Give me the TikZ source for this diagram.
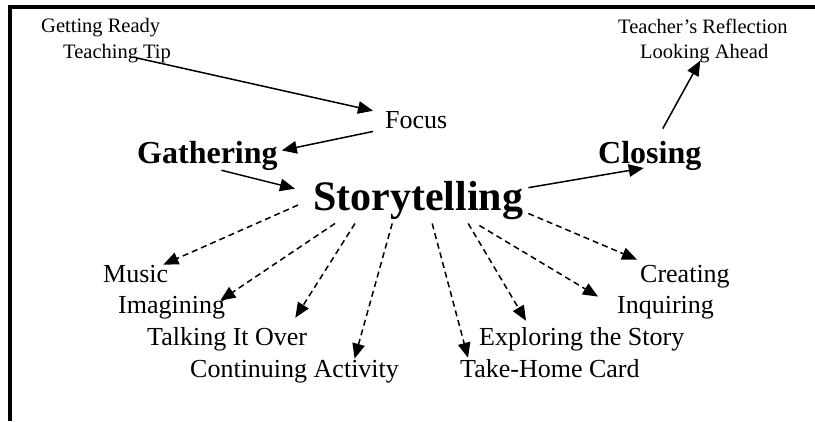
\documentclass[tikz,border=0pt]{standalone}
\usepackage{fontspec}
\setmainfont{Liberation Serif}
\usepackage{tikz}
\usetikzlibrary{arrows.meta}
\usetikzlibrary{calc}

\begin{document}
\begin{tikzpicture}[x=1pt, y=-1pt]
      \tikzset{
         snode/.style = {
            anchor=base west, inner sep=0pt,
            font=\fontsize{20.5}{24}\selectfont
         },
         mnode/.style = {
            anchor=base west, inner sep=0pt,
            font=\fontsize{26}{30}\selectfont
         },
         bnode/.style = {
            anchor=base west, inner sep=0pt,
            font=\fontsize{32}{38}\selectfont\bfseries
         },
         hnode/.style = {
            anchor=base west, inner sep=0pt,
            font=\fontsize{42}{50}\selectfont\bfseries
         },
         arr/.style = {-{Triangle[length=15pt,width=12.5pt]}, line width=1.5pt},
         darr/.style = {arr, dash pattern=on 6pt off 4pt}
      }
      \useasboundingbox (0,0) rectangle (815,421);
      \draw [line width=4pt] (815,7) -- (10,7) -- (10,421) ;
      \node[snode] (ready) at (41,32) {Getting Ready} ;
      \node[snode] (tip) at (63,58) {Teaching Tip} ;
      \node[snode] (reflect) at (618,33) {Teacher's Reflection} ;
      \node[snode] (ahead) at (640,58) {Looking Ahead} ;
      \node[mnode] (focus) at (385,128) {Focus} ;
      \node[bnode] (gather) at (137,163) {Gathering} ;
      \node[bnode] (close) at (598,163) {Closing} ;
      \node[hnode] (story) at (313,210) {Storytelling} ;
      \node[mnode] (music) at (103,282) {Music} ;
      \node[mnode] (imag) at (118,313) {Imagining} ;
      \node[mnode] (talk) at (147,345) {Talking It Over} ;
      \node[mnode] (cont) at (190,377) {Continuing Activity} ;
      \node[mnode] (crea) at (640,282) {Creating} ;
      \node[mnode] (inq) at (617,313) {Inquiring} ;
      \node[mnode] (expl) at (479,345) {Exploring the Story} ;
      \node[mnode] (take) at (460,377) {Take-Home Card} ;
      \draw [arr] ([xshift=-34pt]tip.base east) -- ([xshift=-12pt]focus.north west) ;
      \draw [arr] ([xshift=-12pt,yshift=-3pt]focus.south west) -- ([xshift=4pt,yshift=5pt]gather.east) ;
      \draw [arr] ([xshift=14pt]gather.south) -- ([xshift=-18pt,yshift=-8pt]story.north west) ;
      \draw [arr] ([xshift=5pt,yshift=-7pt]story.north east) -- ([xshift=-6pt,yshift=-5pt]close.base) ;
      \draw [arr] ([xshift=13pt,yshift=12pt]close.north) -- ([xshift=-4pt,yshift=2pt]ahead.south) ;
      \draw [darr] ([xshift=-15pt,yshift=-5pt]story.west) -- ([xshift=-5pt]music.north east) ;
      \draw [darr] ([xshift=22pt,yshift=-4pt]story.south west) -- ([xshift=-5pt,yshift=-5pt]imag.north east) ;
      \draw [darr] ([xshift=42pt,yshift=-4pt]story.south west) -- ([xshift=-12pt,yshift=9pt]talk.north east) ;
      \draw [darr] ([xshift=-26pt,yshift=-4pt]story.south) -- ([xshift=60pt,yshift=1pt]cont.north) ;
      \draw [darr] ([xshift=14pt,yshift=-4pt]story.south) -- ([xshift=8pt,yshift=1pt]take.north west) ;
      \draw [darr] ([xshift=50pt,yshift=-4pt]story.south) -- ([xshift=47pt,yshift=6pt]expl.north west) ;
      \draw [darr] ([xshift=-44pt,yshift=-6pt]story.south east) -- ([xshift=-19pt,yshift=-1pt]inq.north west) ;
      \draw [darr] ([xshift=5pt,yshift=6pt]story.south east) -- ([xshift=-3pt,yshift=5pt]crea.north west) ;
\end{tikzpicture}
\end{document}
